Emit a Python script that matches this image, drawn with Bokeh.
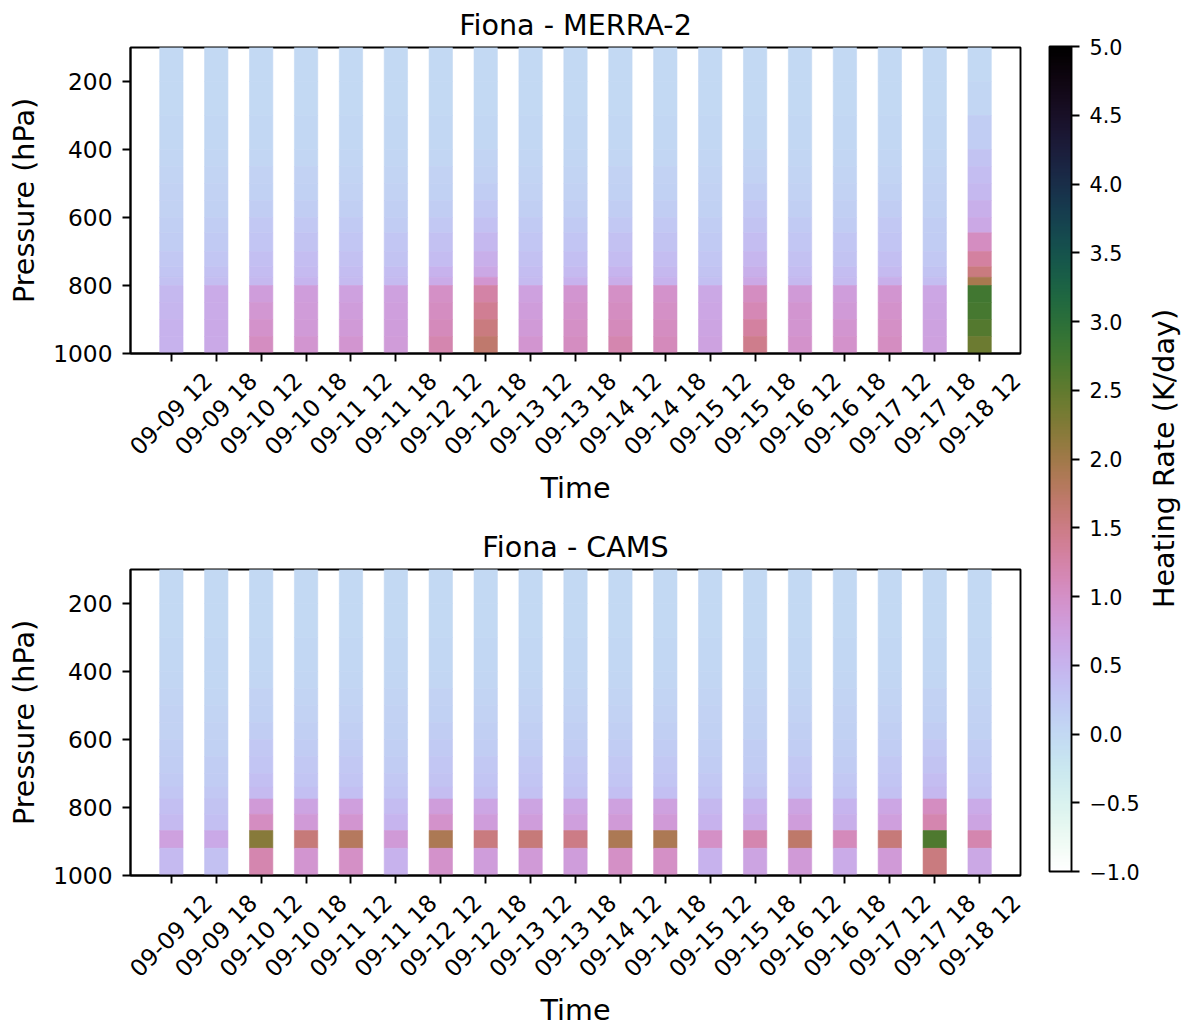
import math
from bokeh.plotting import figure
from bokeh.models import (LinearColorMapper, ColorBar, FixedTicker, Range1d,
                          ColumnDataSource, Label, LinearAxis)
from bokeh.layouts import row, column
from bokeh.embed import file_html
from bokeh.resources import INLINE

# ---------------- data ----------------
times = ["09-09 12", "09-09 18", "09-10 12", "09-10 18", "09-11 12", "09-11 18",
         "09-12 12", "09-12 18", "09-13 12", "09-13 18", "09-14 12", "09-14 18",
         "09-15 12", "09-15 18", "09-16 12", "09-16 18", "09-17 12", "09-17 18",
         "09-18 12"]

pressure_ticks = [200, 400, 600, 800, 1000]
cbar_ticks = [-1.0, -0.5, 0.0, 0.5, 1.0, 1.5, 2.0, 2.5, 3.0, 3.5, 4.0, 4.5, 5.0]

# layer edges (hPa), top -> bottom
merra_edges = [100, 200, 300, 400, 450, 500, 550, 600, 645, 700, 745, 776, 800,
               850, 900, 950, 1000]
cams_edges = [100, 200, 300, 400, 450, 500, 550, 600, 650, 700, 740, 775, 820,
              868, 920, 1000]

# heating rate (K/day) per time, per layer (top -> bottom)
merra_rates = [
    [0.0, 0.0, 0.02, 0.04, 0.06, 0.08, 0.10, 0.13, 0.17, 0.22, 0.28, 0.32, 0.45, 0.47, 0.50, 0.52],
    [0.0, 0.0, 0.02, 0.04, 0.06, 0.09, 0.12, 0.16, 0.20, 0.26, 0.32, 0.36, 0.60, 0.60, 0.62, 0.62],
    [0.0, 0.0, 0.02, 0.05, 0.08, 0.12, 0.16, 0.22, 0.28, 0.34, 0.40, 0.45, 0.80, 0.88, 0.95, 1.05],
    [0.0, 0.0, 0.02, 0.05, 0.08, 0.12, 0.17, 0.24, 0.30, 0.36, 0.42, 0.48, 0.80, 0.82, 0.85, 0.90],
    [0.0, 0.0, 0.02, 0.04, 0.07, 0.10, 0.14, 0.20, 0.26, 0.32, 0.38, 0.42, 0.75, 0.80, 0.85, 0.90],
    [0.0, 0.0, 0.02, 0.04, 0.07, 0.10, 0.14, 0.19, 0.25, 0.31, 0.37, 0.42, 0.75, 0.78, 0.80, 0.82],
    [0.0, 0.0, 0.02, 0.05, 0.08, 0.12, 0.17, 0.24, 0.32, 0.40, 0.50, 0.60, 1.00, 1.05, 1.10, 1.20],
    [0.0, 0.0, 0.03, 0.06, 0.10, 0.15, 0.22, 0.32, 0.45, 0.55, 0.65, 0.90, 1.25, 1.40, 1.55, 1.68],
    [0.0, 0.0, 0.02, 0.04, 0.07, 0.10, 0.14, 0.20, 0.26, 0.32, 0.38, 0.42, 0.75, 0.80, 0.85, 0.90],
    [0.0, 0.0, 0.02, 0.04, 0.07, 0.10, 0.14, 0.20, 0.28, 0.35, 0.42, 0.50, 0.90, 0.95, 1.00, 1.05],
    [0.0, 0.0, 0.02, 0.05, 0.08, 0.12, 0.17, 0.24, 0.32, 0.40, 0.48, 0.58, 1.00, 1.05, 1.10, 1.20],
    [0.0, 0.0, 0.02, 0.05, 0.08, 0.12, 0.17, 0.24, 0.30, 0.37, 0.44, 0.50, 0.95, 1.00, 1.05, 1.10],
    [0.0, 0.0, 0.02, 0.04, 0.06, 0.09, 0.12, 0.16, 0.20, 0.25, 0.30, 0.35, 0.65, 0.68, 0.70, 0.72],
    [0.0, 0.0, 0.03, 0.06, 0.10, 0.15, 0.22, 0.30, 0.38, 0.46, 0.55, 0.65, 1.05, 1.15, 1.30, 1.45],
    [0.0, 0.0, 0.02, 0.04, 0.07, 0.10, 0.14, 0.20, 0.26, 0.32, 0.38, 0.44, 0.85, 0.90, 0.92, 0.95],
    [0.0, 0.0, 0.02, 0.04, 0.07, 0.10, 0.14, 0.19, 0.25, 0.31, 0.37, 0.42, 0.80, 0.85, 0.90, 0.95],
    [0.0, 0.0, 0.02, 0.04, 0.07, 0.11, 0.16, 0.22, 0.28, 0.35, 0.42, 0.55, 0.90, 0.95, 1.00, 1.05],
    [0.0, 0.0, 0.02, 0.04, 0.06, 0.08, 0.11, 0.15, 0.19, 0.24, 0.30, 0.36, 0.68, 0.70, 0.72, 0.75],
    [0.0, 0.05, 0.15, 0.30, 0.38, 0.45, 0.55, 0.65, 1.05, 1.30, 1.55, 1.95, 2.75, 2.72, 2.60, 2.40],
]

cams_rates = [
    [0.0, 0.0, 0.02, 0.04, 0.06, 0.08, 0.10, 0.13, 0.16, 0.20, 0.25, 0.35, 0.42, 0.75, 0.42],
    [0.0, 0.0, 0.02, 0.03, 0.05, 0.07, 0.09, 0.12, 0.15, 0.19, 0.23, 0.30, 0.35, 0.62, 0.33],
    [0.0, 0.0, 0.02, 0.05, 0.08, 0.12, 0.17, 0.22, 0.28, 0.34, 0.42, 0.85, 1.05, 2.20, 1.20],
    [0.0, 0.0, 0.02, 0.04, 0.07, 0.10, 0.14, 0.18, 0.23, 0.28, 0.34, 0.70, 0.85, 1.60, 0.90],
    [0.0, 0.0, 0.02, 0.04, 0.07, 0.10, 0.14, 0.18, 0.23, 0.28, 0.34, 0.78, 0.90, 1.80, 1.00],
    [0.0, 0.0, 0.02, 0.04, 0.06, 0.08, 0.11, 0.14, 0.18, 0.22, 0.27, 0.40, 0.48, 0.85, 0.50],
    [0.0, 0.0, 0.02, 0.05, 0.08, 0.11, 0.15, 0.20, 0.25, 0.30, 0.37, 0.80, 0.95, 1.90, 0.95],
    [0.0, 0.0, 0.02, 0.04, 0.07, 0.10, 0.13, 0.17, 0.22, 0.27, 0.33, 0.68, 0.80, 1.55, 0.80],
    [0.0, 0.0, 0.02, 0.04, 0.07, 0.10, 0.13, 0.17, 0.22, 0.27, 0.33, 0.70, 0.80, 1.60, 0.85],
    [0.0, 0.0, 0.02, 0.04, 0.07, 0.10, 0.13, 0.17, 0.22, 0.27, 0.33, 0.68, 0.78, 1.50, 0.80],
    [0.0, 0.0, 0.02, 0.04, 0.07, 0.10, 0.13, 0.18, 0.23, 0.28, 0.35, 0.75, 0.85, 1.90, 1.00],
    [0.0, 0.0, 0.02, 0.04, 0.07, 0.10, 0.13, 0.18, 0.23, 0.28, 0.35, 0.75, 0.85, 1.90, 1.00],
    [0.0, 0.0, 0.02, 0.04, 0.06, 0.08, 0.11, 0.14, 0.18, 0.22, 0.27, 0.45, 0.52, 1.00, 0.50],
    [0.0, 0.0, 0.02, 0.04, 0.06, 0.08, 0.11, 0.15, 0.19, 0.24, 0.30, 0.50, 0.60, 1.20, 0.70],
    [0.0, 0.0, 0.02, 0.04, 0.07, 0.10, 0.13, 0.17, 0.22, 0.27, 0.33, 0.70, 0.80, 1.70, 0.85],
    [0.0, 0.0, 0.02, 0.04, 0.06, 0.08, 0.11, 0.14, 0.18, 0.22, 0.27, 0.48, 0.55, 1.10, 0.60],
    [0.0, 0.0, 0.02, 0.04, 0.07, 0.10, 0.13, 0.17, 0.22, 0.27, 0.33, 0.68, 0.78, 1.60, 0.85],
    [0.0, 0.0, 0.02, 0.05, 0.08, 0.12, 0.17, 0.23, 0.30, 0.37, 0.45, 1.05, 1.20, 2.65, 1.55],
    [0.0, 0.0, 0.02, 0.04, 0.06, 0.09, 0.12, 0.16, 0.20, 0.25, 0.30, 0.60, 0.70, 1.20, 0.65],
]

# ---------------- colormap (cubehelix reversed) ----------------
def cubehelix(x, gamma=1.0, s=0.5, r=-1.5, h=1.0):
    xg = x ** gamma
    a = h * xg * (1 - xg) / 2
    phi = 2 * math.pi * (s / 3 + r * x)
    c, sn = math.cos(phi), math.sin(phi)
    rr = xg + a * (-0.14861 * c + 1.78277 * sn)
    gg = xg + a * (-0.29227 * c - 0.90649 * sn)
    bb = xg + a * (1.97294 * c)
    to = lambda v: int(round(max(0.0, min(1.0, v)) * 255))
    return "#%02x%02x%02x" % (to(rr), to(gg), to(bb))

palette = [cubehelix(1 - i / 255) for i in range(256)]
mapper = LinearColorMapper(palette=palette, low=-1.0, high=5.0)

FONT = "DejaVu Sans"
TICK_FS = "23.3px"
LABEL_FS = "28.6px"
BAR_W = 0.52
LABEL_SHIFT = 0.8125   # rotated tick labels are centred on their tick


def style_axis(ax):
    ax.axis_line_color = "black"
    ax.axis_line_width = 1.9
    ax.major_tick_line_color = "black"
    ax.major_tick_line_width = 1.9
    ax.major_tick_in = 0
    ax.major_tick_out = 8
    ax.minor_tick_line_color = None
    ax.major_label_text_font = FONT
    ax.major_label_text_font_size = TICK_FS
    ax.major_label_text_color = "black"
    ax.axis_label_text_font = FONT
    ax.axis_label_text_font_size = LABEL_FS
    ax.axis_label_text_font_style = "normal"
    ax.axis_label_text_color = "black"


def make_panel(title, edges, rates, top_border, bottom_border):
    p = figure(frame_width=890, frame_height=306,
               x_range=Range1d(-0.91, 18.91), y_range=Range1d(1000, 100),
               output_backend="svg", toolbar_location=None,
               min_border_left=130, min_border_right=20,
               min_border_top=top_border, min_border_bottom=bottom_border,
               title=title)
    left, right, top, bottom, val = [], [], [], [], []
    for i, prof in enumerate(rates):
        for j, v in enumerate(prof):
            left.append(i - BAR_W / 2)
            right.append(i + BAR_W / 2)
            top.append(edges[j])
            bottom.append(edges[j + 1])
            val.append(v)
    src = ColumnDataSource(dict(left=left, right=right, top=top, bottom=bottom, val=val))
    cmap = {"field": "val", "transform": mapper}
    p.quad(left="left", right="right", top="top", bottom="bottom", source=src,
           fill_color=cmap, line_color=cmap, line_width=0.6)

    p.grid.visible = False
    p.outline_line_color = "black"
    p.outline_line_width = 1.9
    p.background_fill_color = "white"
    p.border_fill_color = "white"

    p.title.text_font = FONT
    p.title.text_font_size = LABEL_FS
    p.title.text_font_style = "normal"
    p.title.text_color = "black"
    p.title.align = "center"
    p.title.standoff = 11

    style_axis(p.xaxis[0])
    style_axis(p.yaxis[0])

    p.yaxis.ticker = FixedTicker(ticks=pressure_ticks)
    p.yaxis.major_label_standoff = 10
    p.yaxis.axis_label = "Pressure (hPa)"
    p.yaxis.axis_label_standoff = 9

    # tick marks at each time step
    n = len(times)
    p.xaxis.ticker = FixedTicker(ticks=list(range(n)))
    p.xaxis.major_label_overrides = {i: "" for i in range(n)}
    p.xaxis.major_label_text_font_size = "0px"
    p.xaxis.major_label_standoff = 0

    # rotated time labels (centred under the ticks) + axis title
    lab_pos = [i + LABEL_SHIFT for i in range(n)]
    lab_axis = LinearAxis(ticker=FixedTicker(ticks=lab_pos),
                          major_label_overrides={pos: t for pos, t in zip(lab_pos, times)})
    style_axis(lab_axis)
    lab_axis.axis_line_color = None
    lab_axis.major_tick_line_color = None
    lab_axis.major_tick_out = 0
    lab_axis.major_label_orientation = math.pi / 4
    lab_axis.major_label_standoff = 15
    lab_axis.axis_label = "Time"
    lab_axis.axis_label_standoff = -2
    p.add_layout(lab_axis, "below")
    return p


p1 = make_panel("Fiona - MERRA-2", merra_edges, merra_rates, 46, 168)
p2 = make_panel("Fiona - CAMS", cams_edges, cams_rates, 48, 152)

# ---------------- colour bar ----------------
p3 = figure(width=149, height=1026, x_range=Range1d(0, 1), y_range=Range1d(0, 1),
            x_axis_type=None, y_axis_type=None, toolbar_location=None,
            output_backend="svg", min_border=0, outline_line_color=None)
p3.grid.visible = False
cb = ColorBar(color_mapper=mapper, location=(9, 155), width=22, height=825,
              orientation="vertical", padding=0,
              ticker=FixedTicker(ticks=cbar_ticks),
              major_label_overrides={t: ("%.1f" % t).replace("-", "\u2212") for t in cbar_ticks},
              major_label_text_font=FONT, major_label_text_font_size="20.7px",
              major_label_text_color="black",
              major_tick_in=0, major_tick_out=8, major_tick_line_color="black",
              major_tick_line_width=1.9, minor_tick_line_color=None,
              label_standoff=10, bar_line_color="black", bar_line_width=1.9,
              background_fill_color=None, border_line_color=None)
p3.add_layout(cb)
cb_label = Label(x=123, y=568, x_units="screen", y_units="screen",
                 text="Heating Rate (K/day)", angle=math.pi / 2,
                 text_align="center", text_baseline="middle",
                 text_font=FONT, text_font_size=LABEL_FS, text_color="black")
p3.add_layout(cb_label)

layout = row(column(p1, p2), p3)
open("out.html", "w").write(file_html(layout, INLINE))
